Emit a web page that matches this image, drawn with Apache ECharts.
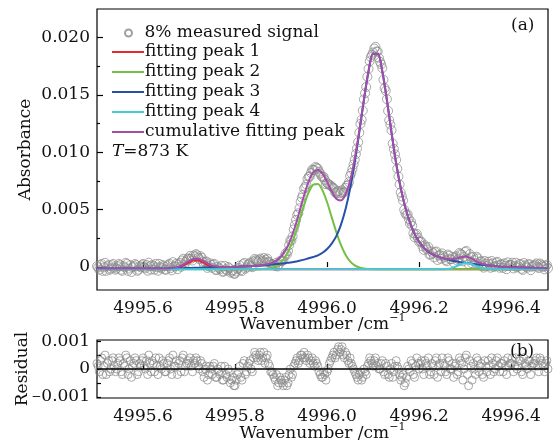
<!DOCTYPE html>
<html><head><meta charset="utf-8">
<script src="https://cdn.jsdelivr.net/npm/echarts@6/dist/echarts.min.js"></script>
<style>html,body{margin:0;padding:0;background:#fff}#c{width:557px;height:442px}</style>
</head><body><div id="c"></div>
<script>
// ---- data ----
const fitStart = 4995.50, fitStep = 0.01;       // sampling grid of fitted curves
const measStart = 4995.500, measStep = 0.005;   // grid A of measured points
const measStartB = 4995.5025;                   // grid B (interleaved) of measured points

const xTicks = [4995.6, 4995.8, 4996.0, 4996.2, 4996.4];
const yTicksA = [0, 0.005, 0.01, 0.015, 0.02];
const yMinorA = [0.0025, 0.0075, 0.0125, 0.0175];
const yTicksB = [-0.001, 0, 0.001];
const yTickMarksB = [-0.001, -0.0005, 0, 0.0005, 0.001];

const peak1 = [
-0.0002,-0.0002,-0.0002,-0.0002,-0.0002,-0.0002,-0.0002,-0.0002,-0.0002,-0.0002,
-0.0002,-0.0002,-0.0002,-0.0002,-0.0002,-0.0002,
-0.00018,-0.00014,-0.00003,0.00017,0.0004,0.00058,0.00058,0.0004,0.00017,-0.00003,-0.00014,-0.00018,
-0.0002,-0.0002,-0.0002,-0.0002,-0.0002,-0.0002,-0.0002,-0.0002,-0.0002,-0.0002,
-0.0002,-0.0002,-0.0002,-0.0002,-0.0002,-0.0002,-0.0002,-0.0002,-0.0002,-0.0002,
-0.0002,-0.0002,-0.0002,-0.0002,-0.0002,-0.0002,-0.0002,-0.0002,-0.0002,-0.0002,
-0.0002,-0.0002,-0.0002,-0.0002,-0.0002,-0.0002,-0.0002,-0.0002,-0.0002,-0.0002,
-0.0002,-0.0002,-0.0002,-0.0002,-0.0002,-0.0002,-0.0002,-0.0002,-0.0002,-0.0002,
-0.0002,-0.0002,-0.0002,-0.0002,-0.0002,-0.0002,-0.0002,-0.0002,-0.0002,-0.0002,
-0.0002,-0.0002,-0.0002,-0.0002,-0.0002,-0.0002,-0.0002,-0.0002,-0.0002,-0.0002,
-0.0002
];
const peak2 = [
-0.0002,-0.0002,-0.0002,-0.0002,-0.0002,-0.0002,-0.0002,-0.0002,-0.0002,-0.0002,
-0.0002,-0.0002,-0.0002,-0.0002,-0.0002,-0.0002,-0.0002,-0.0002,-0.0002,-0.0002,
-0.0002,-0.0002,-0.0002,-0.0002,-0.0002,-0.0002,-0.0002,-0.0002,-0.0002,-0.0002,
-0.0002,-0.0002,-0.0002,-0.0002,-0.0002,-0.0002,
-0.00018,-0.00014,-0.00006,0.00011,0.00042,0.00094,0.00173,0.0028,0.00408,0.0054,
0.00651,0.00719,0.00725,0.00669,0.00565,0.00435,0.00305,0.00193,0.00108,0.0005,
0.00015,-0.00004,-0.00013,-0.00017,-0.00019,
-0.0002,-0.0002,-0.0002,-0.0002,-0.0002,-0.0002,-0.0002,-0.0002,-0.0002,-0.0002,
-0.0002,-0.0002,-0.0002,-0.0002,-0.0002,-0.0002,-0.0002,-0.0002,-0.0002,-0.0002,
-0.0002,-0.0002,-0.0002,-0.0002,-0.0002,-0.0002,-0.0002,-0.0002,-0.0002,-0.0002,
-0.0002,-0.0002,-0.0002,-0.0002,-0.0002,-0.0002,-0.0002,-0.0002
];
const peak3 = [
-0.00013,-0.00013,-0.00013,-0.00013,-0.00013,-0.00013,-0.00013,-0.00013,-0.00013,-0.00013,-0.00013,
-0.00012,-0.00012,-0.00012,-0.00012,-0.00012,
-0.00011,-0.0001,-0.0001,-0.00009,-0.00008,-0.00007,-0.00006,-0.00005,-0.00004,-0.00003,
-0.00002,-0.00001,0.0,0.00001,0.00002,0.00004,0.00006,0.00008,0.0001,0.00012,
0.00015,0.00018,0.00022,0.00026,0.0003,0.00035,0.0004,0.00047,0.00055,0.00065,
0.00077,0.00088,0.00102,0.00125,
0.00158,0.00205,0.0027,0.00368,0.00503,0.00684,0.0091,0.01176,0.01455,0.01705,
0.01859,0.01859,0.01705,0.01454,0.01173,0.00905,0.0069,0.0052,0.0039,0.0029,
0.0022,0.0017,0.00135,0.0011,0.00092,0.00078,0.00067,0.00058,0.0005,0.00043,
0.00037,0.00031,0.00026,0.00022,0.00018,0.00014,0.00011,0.00006,0.00003,0.00001,
-0.00001,-0.00002,-0.00004,-0.00005,-0.00006,-0.00007,-0.00008,-0.00009,-0.0001
];
const peak4 = [
-0.0002,-0.0002,-0.0002,-0.0002,-0.0002,-0.0002,-0.0002,-0.0002,-0.0002,-0.0002,
-0.0002,-0.0002,-0.0002,-0.0002,-0.0002,-0.0002,-0.0002,-0.0002,-0.0002,-0.0002,
-0.0002,-0.0002,-0.0002,-0.0002,-0.0002,-0.0002,-0.0002,-0.0002,-0.0002,-0.0002,
-0.0002,-0.0002,-0.0002,-0.0002,-0.0002,-0.0002,-0.0002,-0.0002,-0.0002,-0.0002,
-0.0002,-0.0002,-0.0002,-0.0002,-0.0002,-0.0002,-0.0002,-0.0002,-0.0002,-0.0002,
-0.0002,-0.0002,-0.0002,-0.0002,-0.0002,-0.0002,-0.0002,-0.0002,-0.0002,-0.0002,
-0.0002,-0.0002,-0.0002,-0.0002,-0.0002,-0.0002,-0.0002,-0.0002,-0.0002,-0.0002,
-0.0002,-0.0002,-0.0002,-0.0002,-0.0002,
-0.00019,-0.00017,-0.0001,0.00004,0.00022,0.00035,0.00031,0.00015,-0.00002,-0.00013,-0.00018,-0.00019,
-0.0002,-0.0002,-0.0002,-0.0002,-0.0002,-0.0002,-0.0002,-0.0002,-0.0002,-0.0002,-0.0002,-0.0002
];
const cumulative = [
-0.00013,-0.00013,-0.00013,-0.00013,-0.00013,-0.00013,-0.00013,-0.00013,-0.00013,-0.00013,-0.00013,
-0.00012,-0.00012,-0.00012,-0.00012,-0.00012,
-0.00009,-0.00004,0.00007,0.00028,0.00052,0.00071,0.00072,0.00055,0.00033,0.00014,
0.00004,0.00001,0.0,0.00001,0.00002,0.00004,0.00006,0.00008,0.0001,0.00012,
0.00017,0.00024,0.00036,0.00057,0.00092,0.00149,0.00233,0.00347,0.00483,0.00625,
0.00748,0.00827,0.00847,0.00814,
0.00743,0.0066,0.00595,0.00581,0.00631,0.00754,0.00945,0.01192,0.01462,0.01708,
0.0186,0.01859,0.01705,0.01454,0.01173,0.00905,0.0069,0.0052,0.0039,0.0029,
0.0022,0.0017,0.00135,0.0011,0.00092,0.00079,0.0007,0.00068,0.00074,0.00085,
0.00092,0.00082,0.00061,0.0004,0.00025,0.00016,0.00012,0.00006,0.00003,0.00001,
-0.00001,-0.00002,-0.00004,-0.00005,-0.00006,-0.00007,-0.00008,-0.00009,-0.0001
];
const measured = [
0.00007,-0.00023,0.00027,-0.00003,-0.00033,0.00017,-0.00013,0.00027,-0.00023,0.00007,
0.00017,-0.00033,-0.00003,0.00027,-0.00013,-0.00043,0.00007,0.00017,-0.00023,-0.00003,
0.00027,-0.00012,-0.00032,0.00008,0.00018,-0.00022,-0.00002,0.00028,-0.00012,0.00008,
-0.00022,0.00019,-0.00009,0.00043,0.00006,-0.00019,0.00037,0.00057,0.00018,0.0006,
0.00072,0.00073,0.00101,0.00113,0.00082,0.00095,0.00045,0.00044,-0.00007,0.00033,
-0.00006,0.00028,-0.00026,-0.00008,0.00011,-0.0004,-0.0002,0.0,-0.00049,-0.00028,
-0.00058,-0.00017,0.00014,-0.00035,0.00036,-0.00003,0.00028,0.00009,0.0005,0.00061,
0.00042,0.00074,0.00057,0.0004,0.00074,0.0004,0.00026,0.00015,0.00037,0.00023,
0.00052,0.00058,0.00119,0.00139,0.00233,0.00268,0.00367,0.00455,0.00513,0.00605,
0.00685,0.0072,0.00788,0.00822,0.00847,0.00873,0.00857,0.00815,0.00784,0.0076,
0.00733,0.0072,0.007,0.00685,0.00645,0.00664,0.00651,0.00648,0.00691,0.00715,
0.00794,0.00855,0.00935,0.01035,0.01172,0.01285,0.01462,0.0157,0.01728,0.0183,
0.0187,0.0192,0.01879,0.0179,0.01735,0.0156,0.01464,0.0128,0.01193,0.0103,
0.00935,0.0079,0.0065,0.0058,0.0047,0.0046,0.0038,0.0036,0.0026,0.0029,
0.0022,0.0022,0.0015,0.0017,0.00175,0.0011,0.0012,0.0013,0.00062,0.00105,
0.00119,0.00084,0.0005,0.00098,0.00068,0.0004,0.00094,0.0007,0.00115,0.0005,
0.00132,0.00069,0.00112,0.00032,0.00061,0.0009,0.0003,0.00052,-0.00005,0.0003,
0.00046,-0.00006,0.00032,0.00009,0.00046,-0.00006,0.00023,0.00032,-0.00019,0.0001,
0.00019,-0.00012,0.00038,0.00007,0.00026,-0.00025,0.00015,-0.00006,0.00024,0.00003,
0.00013,0.00032,-0.00009,0.00021,0.00001,0.0001,-0.0001
];
const measuredB = [
-0.00003,0.00017,-0.00033,0.00037,0.00007,-0.00023,0.00017,-0.00003,-0.00013,0.00027,
-0.00023,0.00007,0.00037,-0.00033,0.00017,-0.00003,0.00027,-0.00033,0.00007,0.00017,
-0.00003,0.00018,0.00038,-0.00022,0.00008,0.00028,-0.00032,-0.00002,0.00018,-0.00022,
0.00008,0.0003,-0.00028,0.00005,0.00029,0.00024,0.00002,0.00072,0.00044,0.00076,
0.00098,0.00057,0.00092,0.00103,0.00069,0.0008,0.0002,0.00049,0.00008,0.00019,
0.00021,-0.00024,0.00003,-0.00019,-0.0004,0.0001,-0.0003,-0.0001,-0.00039,-0.00058,
-0.00038,-0.00007,-0.00026,0.00026,-0.00014,0.00018,0.00039,-0.00001,0.00071,0.00052,
0.00063,0.00046,0.00079,0.00062,0.00047,0.00023,0.0002,0.00011,0.00005,0.00053,
0.00055,0.00094,0.00109,0.00191,0.0023,0.00328,0.00411,0.00469,0.00569,0.0063,
0.00698,0.00769,0.0079,0.0085,0.00845,0.00865,0.00831,0.00795,0.00787,0.00722,
0.00722,0.0071,0.00693,0.0065,0.0066,0.00643,0.0067,0.00655,0.00708,0.0074,
0.0082,0.00895,0.00985,0.01089,0.01249,0.01364,0.01516,0.01659,0.01794,0.0185,
0.01905,0.0188,0.01825,0.01768,0.01633,0.01537,0.01362,0.01242,0.01077,0.00983,
0.00858,0.0072,0.00615,0.005,0.00455,0.0042,0.00395,0.00295,0.0028,0.00255,
0.00225,0.0018,0.0019,0.00153,0.00108,0.00135,0.00085,0.00136,0.00099,0.00072,
0.00097,0.00062,0.00109,0.00068,0.00089,0.00082,0.00057,0.00123,0.00108,0.00091,
0.00141,0.00026,0.00087,0.00087,0.00036,0.00075,0.00046,0.00009,0.00053,0.00008,
0.00025,0.00053,0.00001,0.00038,0.00015,0.00024,-0.00007,0.00012,0.00041,0.0002,
0.00038,0.00008,-0.00003,0.00026,-0.00015,0.00035,0.00004,0.00024,-0.00027,0.00013,
0.00022,0.00002,0.00031,0.00011,-0.0002,0.0002
];
const residual = [
0.0002,-0.0001,0.0004,0.0001,-0.0002,0.0003,0.0,0.0004,-0.0001,0.0002,
0.0003,-0.0002,0.0001,0.0004,0.0,-0.0003,0.0002,0.0003,-0.0001,0.0001,
0.0004,0.0,-0.0002,0.0002,0.0003,-0.0001,0.0001,0.0004,0.0,0.0002,
-0.0001,0.0003,0.0,0.0005,0.0001,-0.0002,0.0003,0.0004,-0.0001,0.0002,
0.0002,0.0001,0.0003,0.0004,0.0001,0.0003,-0.0001,0.0,-0.0004,0.0001,
-0.0002,0.0002,-0.0003,-0.0001,0.0001,-0.0004,-0.0002,0.0,-0.0005,-0.0003,
-0.0006,-0.0002,0.0001,-0.0004,0.0003,-0.0001,0.0002,0.0,0.0004,0.0005,
0.0003,0.0006,0.0004,0.0002,0.0005,0.0001,-0.0001,-0.0003,-0.0002,-0.0005,
-0.0004,-0.0006,-0.0003,-0.0005,0.0,-0.0002,0.0002,0.0004,0.0003,0.0005,
0.0006,0.0003,0.0004,0.0003,0.0002,0.0003,0.0001,-0.0002,-0.0003,-0.0002,
-0.0001,0.0002,0.0004,0.0006,0.0005,0.0008,0.0007,0.0005,0.0006,0.0003,
0.0004,0.0001,-0.0001,-0.0003,-0.0002,-0.0004,0.0,-0.0002,0.0002,0.0003,
0.0001,0.0004,0.0002,0.0,0.0003,-0.0002,0.0001,-0.0003,0.0002,-0.0001,
0.0003,0.0,-0.0004,-0.0002,-0.0005,0.0001,-0.0001,0.0002,-0.0003,0.0004,
0.0,0.0003,-0.0002,0.0002,0.0004,-0.0001,0.0001,0.0003,-0.0003,0.0002,
0.0004,0.0001,-0.0002,0.0003,0.0,-0.0003,0.0002,-0.0001,0.0003,-0.0004,
0.0004,-0.0002,0.0003,-0.0004,0.0,0.0004,-0.0001,0.0002,-0.0003,0.0001,
0.0003,-0.0002,0.0002,0.0,0.0004,-0.0001,0.0002,0.0003,-0.0002,0.0001,
0.0002,-0.0001,0.0004,0.0001,0.0003,-0.0002,0.0002,0.0,0.0003,0.0001,
0.0002,0.0004,-0.0001,0.0003,0.0001,0.0002,0.0
];
const residualB = [
0.0001,0.0003,-0.0002,0.0005,0.0002,-0.0001,0.0003,0.0001,0.0,0.0004,
-0.0001,0.0002,0.0005,-0.0002,0.0003,0.0001,0.0004,-0.0002,0.0002,0.0003,
0.0001,0.0003,0.0005,-0.0001,0.0002,0.0004,-0.0002,0.0001,0.0003,-0.0001,
0.0002,0.0004,-0.0002,0.0001,0.0003,0.0002,-0.0001,0.0005,0.0001,0.0003,
0.0004,-0.0001,0.0002,0.0003,0.0,0.0002,-0.0003,0.0001,-0.0002,0.0,
0.0001,-0.0003,0.0,-0.0002,-0.0004,0.0001,-0.0003,-0.0001,-0.0004,-0.0006,
-0.0004,-0.0001,-0.0003,0.0002,-0.0002,0.0001,0.0003,-0.0001,0.0006,0.0004,
0.0005,0.0003,0.0006,0.0004,0.0002,-0.0001,-0.0002,-0.0004,-0.0006,-0.0003,
-0.0005,-0.0004,-0.0006,-0.0002,-0.0003,0.0001,0.0003,0.0002,0.0005,0.0004,
0.0004,0.0005,0.0002,0.0004,0.0001,0.0002,-0.0001,-0.0003,-0.0001,-0.0004,
0.0,0.0003,0.0005,0.0004,0.0007,0.0006,0.0008,0.0004,0.0005,0.0002,
0.0002,0.0,-0.0002,-0.0004,-0.0001,-0.0003,-0.0001,0.0001,0.0004,0.0002,
0.0003,0.0001,0.0,0.0002,-0.0001,0.0002,-0.0002,0.0,-0.0003,0.0001,
0.0001,-0.0002,-0.0003,-0.0006,-0.0003,0.0,0.0003,-0.0002,0.0001,0.0002,
0.0002,0.0,0.0003,0.0001,-0.0002,0.0002,-0.0002,0.0004,0.0001,-0.0001,
0.0002,-0.0001,0.0004,0.0,0.0002,0.0001,-0.0002,0.0004,0.0002,0.0,
0.0005,-0.0006,0.0001,0.0002,-0.0002,0.0003,0.0001,-0.0002,0.0003,-0.0001,
0.0001,0.0004,-0.0001,0.0003,0.0001,0.0002,-0.0001,0.0001,0.0004,0.0002,
0.0004,0.0001,0.0,0.0003,-0.0001,0.0004,0.0001,0.0003,-0.0002,0.0002,
0.0003,0.0001,0.0004,0.0002,-0.0001,0.0003
];

// ---- build ----
const fitX = peak1.map((_, i) => +(fitStart + i * fitStep).toFixed(3));
const measX = measured.map((_, i) => +(measStart + i * measStep).toFixed(4));
const measXB = measuredB.map((_, i) => +(measStartB + i * measStep).toFixed(4));
const pairs = (xs, ys) => ys.map((y, i) => [xs[i], y]);

const FONT = 'DejaVu Serif';
const TXT = '#111';
const FS = 17;
const colors = { p1: '#e8282c', p2: '#74c043', p3: '#2552a8', p4: '#46c9de', cum: '#a24ea8', meas: '#878787' };

const xLabelFmt = v => v.toFixed(1);
const yLabelFmtA = v => (Math.abs(v) < 1e-12 ? '0' : v.toFixed(3));
const yLabelFmtB = v => (Math.abs(v) < 1e-12 ? '0' : (v < 0 ? '{m|\u2212}' : '') + Math.abs(v).toFixed(3));

function xAxisFor(gi, labelMargin, nameGap) {
  return {
    type: 'value', gridIndex: gi, min: 4995.5, max: 4996.48,
    axisLine: { show: false },
    splitLine: { show: false },
    axisTick: { show: true, inside: true, length: 5, customValues: xTicks, lineStyle: { color: '#000', width: 1.2 } },
    axisLabel: { customValues: xTicks, formatter: xLabelFmt, margin: labelMargin, color: TXT, fontFamily: FONT, fontSize: FS },
    name: '{a|Wavenumber /cm}{s|\u22121}',
    nameLocation: 'middle', nameGap: nameGap, nameMoveOverlap: false,
    nameTextStyle: { rich: {
      a: { fontFamily: FONT, fontSize: 17, color: TXT, lineHeight: 20, verticalAlign: 'bottom' },
      s: { fontFamily: FONT, fontSize: 11, color: TXT, verticalAlign: 'top', lineHeight: 20 }
    } }
  };
}

const lineItem = n => ({ name: n, icon: 'rect' });

const option = {
  backgroundColor: '#fff',
  animation: false,
  grid: [
    { left: 97, top: 9, width: 451, height: 281, show: true, borderColor: '#000', borderWidth: 1.2, outerBoundsMode: 'none', containLabel: false },
    { left: 97, top: 340, width: 451, height: 58, show: true, borderColor: '#000', borderWidth: 1.2, outerBoundsMode: 'none', containLabel: false }
  ],
  xAxis: [ xAxisFor(0, 10, 23), xAxisFor(1, 10, 24) ],
  yAxis: [
    { type: 'value', gridIndex: 0, min: -0.002, max: 0.0225, position: 'left',
      axisLine: { show: false }, splitLine: { show: false },
      axisTick: { show: true, inside: true, length: 6, customValues: yTicksA, lineStyle: { color: '#000', width: 1.2 } },
      axisLabel: { customValues: yTicksA, formatter: yLabelFmtA, margin: 7, color: TXT, fontFamily: FONT, fontSize: FS },
      name: 'Absorbance', nameLocation: 'middle', nameGap: 63, nameMoveOverlap: false,
      nameTextStyle: { fontFamily: FONT, fontSize: 17, color: TXT } },
    { type: 'value', gridIndex: 0, min: -0.002, max: 0.0225, position: 'left',
      axisLine: { show: false }, splitLine: { show: false },
      axisTick: { show: true, inside: true, length: 3, customValues: yMinorA, lineStyle: { color: '#000', width: 1.2 } },
      axisLabel: { show: false } },
    { type: 'value', gridIndex: 1, min: -0.00104, max: 0.00104, position: 'left',
      axisLine: { show: false }, splitLine: { show: false },
      axisTick: { show: true, inside: true, length: 4, customValues: yTickMarksB, lineStyle: { color: '#000', width: 1.2 } },
      axisLabel: { customValues: yTicksB, formatter: yLabelFmtB, margin: 7, color: TXT, fontFamily: FONT, fontSize: FS,
        rich: { m: { fontFamily: FONT, fontSize: 12, color: TXT } } },
      name: 'Residual', nameLocation: 'middle', nameGap: 66, nameMoveOverlap: false,
      nameTextStyle: { fontFamily: FONT, fontSize: 17, color: TXT } }
  ],
  legend: [
    { data: [{ name: '8% measured signal', icon: 'circle' }], left: 119, top: 18, itemWidth: 32, itemHeight: 7, itemGap: 0,
      textStyle: { fontFamily: FONT, fontSize: 17, color: TXT, lineHeight: 20, padding: [0, 0, 0, -5] } },
    { data: ['fitting peak 1', 'fitting peak 2', 'fitting peak 3', 'fitting peak 4', 'cumulative fitting peak'].map(lineItem),
      orient: 'vertical', left: 107, top: 37, itemWidth: 32, itemHeight: 2, itemGap: 0,
      textStyle: { fontFamily: FONT, fontSize: 17, color: TXT, lineHeight: 20, padding: [0, 0, 0, -4] } }
  ],
  title: [
    { text: '{i|T}{n|=873 K}', left: 112, top: 143, padding: 0,
      textStyle: { fontWeight: 'normal', rich: {
        i: { fontFamily: FONT, fontStyle: 'italic', fontWeight: 'normal', fontSize: 17, color: TXT },
        n: { fontFamily: FONT, fontWeight: 'normal', fontSize: 17, color: TXT } } } },
    { text: '(a)', left: 511, top: 17, padding: 0, textStyle: { fontFamily: FONT, fontSize: 17, fontWeight: 'normal', color: TXT } },
    { text: '(b)', left: 510, top: 343, padding: 0, textStyle: { fontFamily: FONT, fontSize: 17, fontWeight: 'normal', color: TXT } }
  ],
  series: [
    { name: '8% measured signal', type: 'scatter', xAxisIndex: 0, yAxisIndex: 0,
      data: pairs(measX, measured).concat(pairs(measXB, measuredB)),
      symbol: 'circle', symbolSize: 9, z: 1,
      itemStyle: { color: 'rgba(255,255,255,0)', borderColor: colors.meas, borderWidth: 0.9 } },
    { name: 'fitting peak 1', type: 'line', xAxisIndex: 0, yAxisIndex: 0, data: pairs(fitX, peak1), smooth: 0.3,
      showSymbol: false, symbol: 'none', z: 3, lineStyle: { color: colors.p1, width: 2 }, itemStyle: { color: colors.p1 } },
    { name: 'fitting peak 2', type: 'line', xAxisIndex: 0, yAxisIndex: 0, data: pairs(fitX, peak2), smooth: 0.3,
      showSymbol: false, symbol: 'none', z: 3, lineStyle: { color: colors.p2, width: 2 }, itemStyle: { color: colors.p2 } },
    { name: 'fitting peak 3', type: 'line', xAxisIndex: 0, yAxisIndex: 0, data: pairs(fitX, peak3), smooth: 0.3,
      showSymbol: false, symbol: 'none', z: 3, lineStyle: { color: colors.p3, width: 2 }, itemStyle: { color: colors.p3 } },
    { name: 'fitting peak 4', type: 'line', xAxisIndex: 0, yAxisIndex: 0, data: pairs(fitX, peak4), smooth: 0.3,
      showSymbol: false, symbol: 'none', z: 3, lineStyle: { color: colors.p4, width: 2 }, itemStyle: { color: colors.p4 } },
    { name: 'cumulative fitting peak', type: 'line', xAxisIndex: 0, yAxisIndex: 0, data: pairs(fitX, cumulative), smooth: 0.3,
      showSymbol: false, symbol: 'none', z: 4, lineStyle: { color: colors.cum, width: 2 }, itemStyle: { color: colors.cum } },
    { name: 'residual', type: 'scatter', xAxisIndex: 1, yAxisIndex: 2,
      data: pairs(measX, residual).concat(pairs(measXB, residualB)),
      symbol: 'circle', symbolSize: 8, z: 1,
      itemStyle: { color: 'rgba(255,255,255,0)', borderColor: colors.meas, borderWidth: 0.9 },
      markLine: { silent: true, symbol: 'none', label: { show: false }, animation: false,
        lineStyle: { color: '#000', width: 1.5, type: 'solid' }, data: [{ yAxis: 0 }] } }
  ]
};

const chart = echarts.init(document.getElementById('c'), null, { renderer: 'canvas' });
chart.setOption(option);
</script>
</body></html>
